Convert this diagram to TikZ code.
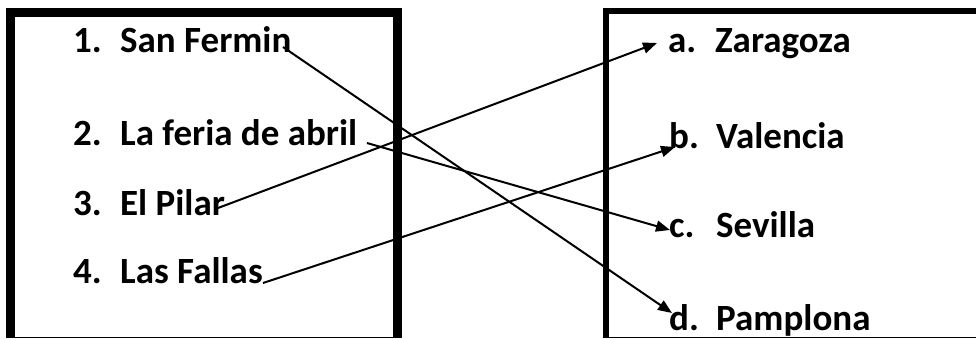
\documentclass[tikz,border=0pt]{standalone}
\usepackage{fontspec}
\setmainfont{Carlito}
\usetikzlibrary{arrows.meta}
\begin{document}
\begin{tikzpicture}[x=1pt,y=-1pt,
  item/.style={anchor=base west,inner sep=0pt,font=\fontsize{37}{42}\selectfont\bfseries},
  link/.style={line width=2pt,-{Triangle[length=14pt,width=11pt]}},
  frameL/.style={line width=9pt},
  frameR/.style={line width=6.5pt}]
\useasboundingbox (0,0) rectangle (976,338);
% boxes
\draw[frameL] (10.5,338) -- (10.5,12.5) -- (397.5,12.5) -- (397.5,338);
\draw[line width=1pt] (15,337.5) -- (393,337.5);
\draw[frameR] (606,338) -- (606,11) -- (976,11);
\draw[line width=1pt] (609,337.5) -- (976,337.5);
% left items
\node[item] (l1) at (73,52) {\makebox[47pt][l]{1.}San Fermin};
\node[item] (l2) at (73,145) {\makebox[47pt][l]{2.}La feria de abril};
\node[item] (l3) at (73,215) {\makebox[47pt][l]{3.}El Pilar};
\node[item] (l4) at (73,283) {\makebox[47pt][l]{4.}Las Fallas};
% right items
\node[item] (ra) at (668,52) {\makebox[47pt][l]{a.}Zaragoza};
\node[item] (rb) at (669,148) {\makebox[47pt][l]{b.}Valencia};
\node[item] (rc) at (669,237) {\makebox[47pt][l]{c.}Sevilla};
\node[item] (rd) at (669,330) {\makebox[47pt][l]{d.}Pamplona};
% connector ends
\coordinate (s1) at (283,47);
\coordinate (s2) at (367,143);
\coordinate (s3) at (218,208);
\coordinate (s4) at (263,283);
\coordinate (ta) at (657,43);
\coordinate (tb) at (675,147);
\coordinate (tc) at (670,230);
\coordinate (td) at (672,313);
\draw[link] (s1) -- (td);
\draw[link] (s2) -- (tc);
\draw[link] (s3) -- (ta);
\draw[link] (s4) -- (tb);
\end{tikzpicture}
\end{document}
